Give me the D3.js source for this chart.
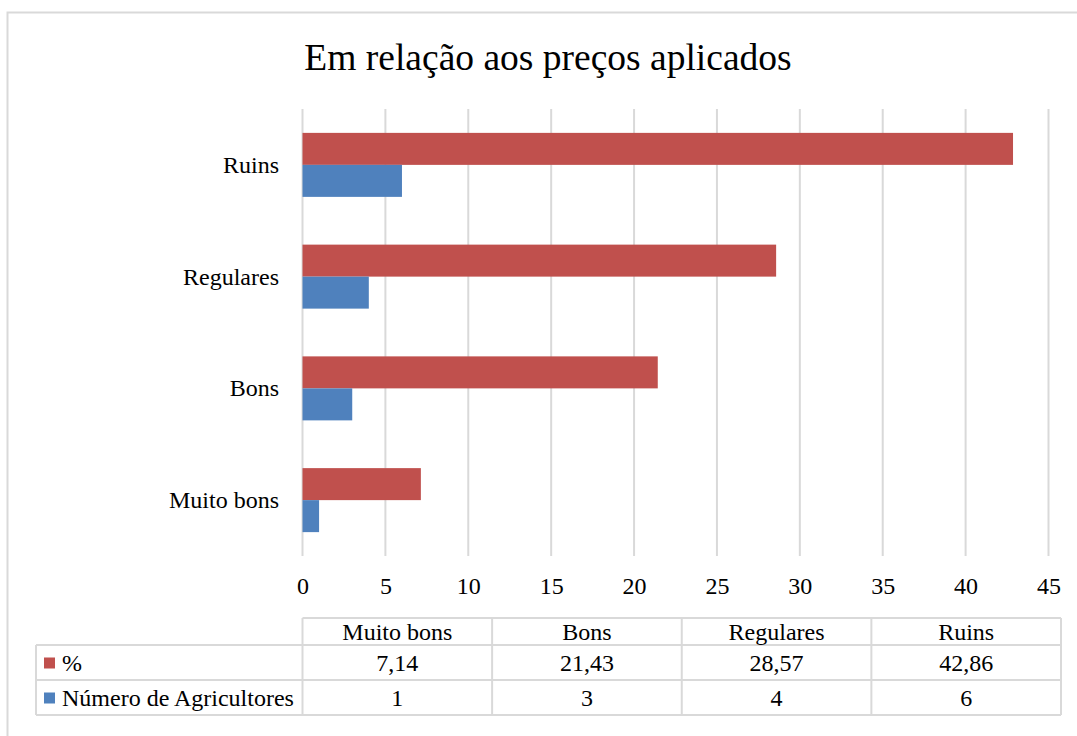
<!DOCTYPE html>
<html>
<head>
<meta charset="utf-8">
<title>Em relação aos preços aplicados</title>
<script src="https://cdn.jsdelivr.net/npm/d3@7"></script>
<style>
  body { margin: 0; background: #fff; }
  svg text { font-family: "Liberation Serif", "Times New Roman", Times, serif; fill: #000; }
</style>
</head>
<body>
<div id="chart"></div>
<script>
// data
var categories = ["Muito bons", "Bons", "Regulares", "Ruins"];
var pct = [7.14, 21.43, 28.57, 42.86];
var agricultores = [1, 3, 4, 6];
var seriesNames = ["%", "Número de Agricultores"];
var pctLabels = ["7,14", "21,43", "28,57", "42,86"];
var xTicks = [0, 5, 10, 15, 20, 25, 30, 35, 40, 45];

var W = 1077, H = 736;
var red = "#C0504D", blue = "#4F81BD", grid = "#D9D9D9";
var fs = "24px";

var svg = d3.select("#chart").append("svg").attr("width", W).attr("height", H)
  .attr("font-family", "Liberation Serif, serif");

// outer chart border
svg.append("rect").attr("x", 7.5).attr("y", 12.5).attr("width", 1080).attr("height", 740)
  .attr("fill", "none").attr("stroke", grid).attr("stroke-width", 2);

svg.append("text").attr("x", 548).attr("y", 70).attr("text-anchor", "middle")
  .style("font-size", "37.5px").text("Em relação aos preços aplicados");

var plot = { left: 302.5, right: 1048.5, top: 109, bottom: 556 };

var x = d3.scaleLinear().domain([0, 45]).range([plot.left, plot.right]);
var y = d3.scaleBand().domain(categories.slice().reverse()).range([plot.top, plot.bottom]);
var inner = d3.scaleBand().domain(["pct", "num"]).range([0, y.bandwidth()]).paddingInner(0).paddingOuter(0.746);

// gridlines
svg.append("g").selectAll("line").data(xTicks).join("line")
  .attr("x1", function(d) { return x(d); }).attr("x2", function(d) { return x(d); })
  .attr("y1", plot.top).attr("y2", plot.bottom)
  .attr("stroke", grid).attr("stroke-width", 2);

// x tick labels
var xAxis = d3.axisBottom(x).tickValues(xTicks).tickSize(0).tickPadding(0);
var gx = svg.append("g").attr("transform", "translate(0," + 594 + ")").call(xAxis)
  .attr("font-family", null).attr("font-size", null);
gx.select(".domain").remove();
gx.selectAll("text").style("font-size", fs).attr("dy", 0).attr("fill", "#000");

// bars
var rows = categories.map(function(c, i) { return { cat: c, pct: pct[i], num: agricultores[i] }; });
var g = svg.append("g");
g.selectAll(".bar-pct").data(rows).join("rect").attr("class", "bar-pct")
  .attr("x", x(0)).attr("y", function(d) { return y(d.cat) + inner("pct"); })
  .attr("width", function(d) { return x(d.pct) - x(0); }).attr("height", inner.bandwidth())
  .attr("fill", red);
g.selectAll(".bar-num").data(rows).join("rect").attr("class", "bar-num")
  .attr("x", x(0)).attr("y", function(d) { return y(d.cat) + inner("num"); })
  .attr("width", function(d) { return x(d.num) - x(0); }).attr("height", inner.bandwidth())
  .attr("fill", blue);

// category labels
svg.append("g").selectAll("text").data(categories).join("text")
  .attr("x", 279).attr("y", function(d) { return y(d) + y.bandwidth() / 2 + 8; })
  .attr("text-anchor", "end").style("font-size", fs).text(function(d) { return d; });

// data table
var colX = x.range()[0];
var tableRight = 1061;
var colW = (tableRight - colX) / categories.length;
var rowY = [618, 645, 680, 715];
var tLeft = 36;
var t = svg.append("g").attr("stroke", grid).attr("stroke-width", 2);
t.append("line").attr("x1", colX).attr("x2", tableRight).attr("y1", rowY[0]).attr("y2", rowY[0]);
[1, 2, 3].forEach(function(i) {
  t.append("line").attr("x1", tLeft).attr("x2", tableRight).attr("y1", rowY[i]).attr("y2", rowY[i]);
});
t.append("line").attr("x1", tLeft).attr("x2", tLeft).attr("y1", rowY[1]).attr("y2", rowY[3]);
d3.range(categories.length + 1).forEach(function(i) {
  t.append("line").attr("x1", colX + i * colW).attr("x2", colX + i * colW).attr("y1", rowY[0]).attr("y2", rowY[3]);
});

var tableRows = [categories, pctLabels, agricultores.map(String)];
tableRows.forEach(function(vals, r) {
  svg.append("g").selectAll("text").data(vals).join("text")
    .attr("x", function(d, i) { return colX + (i + 0.5) * colW; })
    .attr("y", (rowY[r] + rowY[r + 1]) / 2 + 8)
    .attr("text-anchor", "middle").style("font-size", fs).text(function(d) { return d; });
});

// legend keys inside table
var legendColors = [red, blue];
seriesNames.forEach(function(name, i) {
  var cy = (rowY[i + 1] + rowY[i + 2]) / 2;
  svg.append("rect").attr("x", 44).attr("y", cy - 5).attr("width", 11).attr("height", 11).attr("fill", legendColors[i]);
  svg.append("text").attr("x", 62).attr("y", cy + 8).style("font-size", fs).text(name);
});
</script>
</body>
</html>
